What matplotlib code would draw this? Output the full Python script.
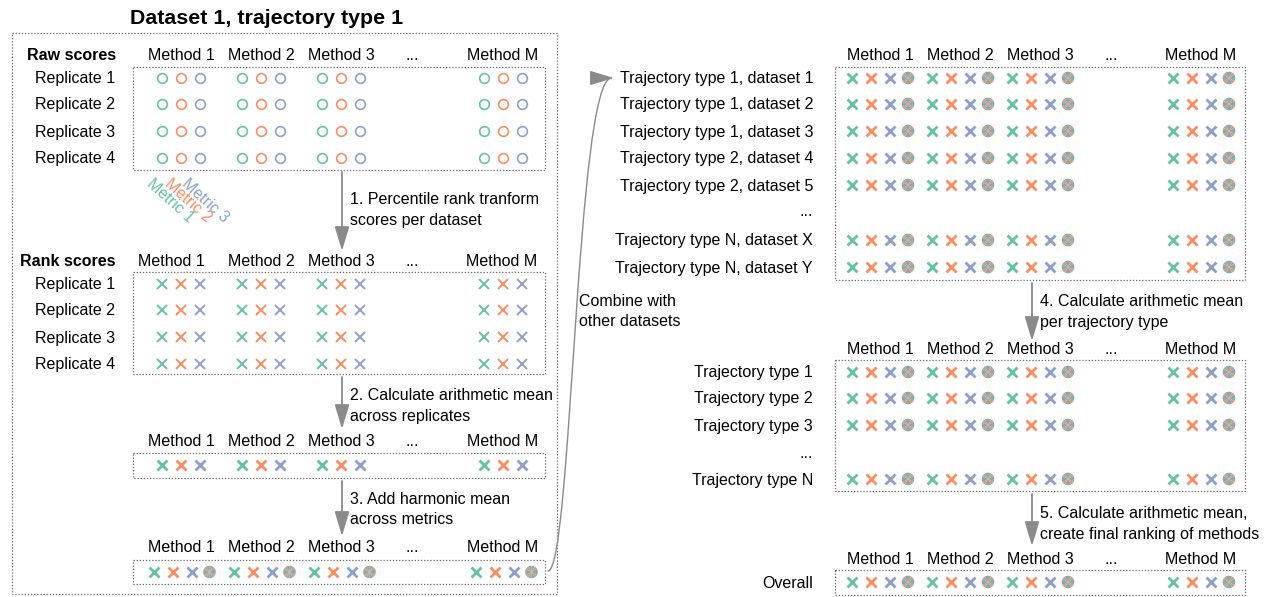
import matplotlib.pyplot as plt
from matplotlib.patches import Rectangle, Wedge, FancyArrowPatch
from matplotlib.path import Path

plt.rcParams['font.family'] = ['Liberation Sans', 'DejaVu Sans']

methods = ['Method 1', 'Method 2', 'Method 3', '...', 'Method M']
metric_names = ['Metric 1', 'Metric 2', 'Metric 3']
metric_colors = ['#66c2a5', '#fc8d62', '#8da0cb']
replicates = ['Replicate 1', 'Replicate 2', 'Replicate 3', 'Replicate 4']
dataset_rows = ['Trajectory type 1, dataset 1', 'Trajectory type 1, dataset 2',
                'Trajectory type 1, dataset 3', 'Trajectory type 2, dataset 4',
                'Trajectory type 2, dataset 5', '...',
                'Trajectory type N, dataset X', 'Trajectory type N, dataset Y']
traj_rows = ['Trajectory type 1', 'Trajectory type 2', 'Trajectory type 3',
             '...', 'Trajectory type N']
steps = [['1. Percentile rank tranform', 'scores per dataset'],
         ['2. Calculate arithmetic mean', 'across replicates'],
         ['3. Add harmonic mean', 'across metrics'],
         ['4. Calculate arithmetic mean', 'per trajectory type'],
         ['5. Calculate arithmetic mean,', 'create final ranking of methods']]

FS = 11.5
LINE = '#8a8a8a'
BOX = '#666666'

fig = plt.figure(figsize=(12.7, 5.97), dpi=100)
ax = fig.add_axes([0, 0, 1, 1])
ax.set_xlim(0, 1270)
ax.set_ylim(597, 0)
ax.axis('off')


def txt(x, y, s, **kw):
    kw.setdefault('fontsize', FS)
    kw.setdefault('va', 'center')
    ax.text(x, y + 1, s, **kw)


def box(x0, y0, x1, y1):
    ax.add_patch(Rectangle((x0, y0), x1 - x0, y1 - y0, fill=False,
                           edgecolor=BOX, lw=0.9, linestyle=(0, (1, 1.5))))


def header(cols, y, title=None, title_x=None):
    for name, cx in zip(methods, cols):
        txt(cx, y, name, ha='center')
    if title:
        txt(title_x, y, title, ha='center', fontweight='bold')


def harmonic(x, y, r=6.3):
    n = 12
    for k in range(n):
        ax.add_patch(Wedge((x, y), r, k * 360 / n, (k + 1) * 360 / n,
                           facecolor=metric_colors[k % 3], edgecolor='none'))


def marks(cols, y, kind):
    for name, cx in zip(methods, cols):
        if name == '...':
            continue
        if kind == 'o':
            for c, dx in zip(metric_colors, (-19, 0, 19)):
                ax.plot(cx + dx, y, 'o', mfc='none', mec=c, ms=7, mew=1.2)
        elif kind == 'x':
            for c, dx in zip(metric_colors, (-19, 0, 19)):
                ax.plot(cx + dx, y, 'x', color=c, ms=7.5, mew=1.4)
        elif kind == 'X':
            for c, dx in zip(metric_colors, (-19, 0, 19)):
                ax.plot(cx + dx, y, 'x', color=c, ms=7, mew=2.0)
        else:
            for c, dx in zip(metric_colors, (-28, -9, 10)):
                ax.plot(cx + dx, y, 'x', color=c, ms=7, mew=2.0)
            harmonic(cx + 28, y)


def row_labels(labels, ys, x):
    for lab, y in zip(labels, ys):
        txt(x, y, lab, ha='right')


def arrow(x, y0, y1, text, ty):
    ax.add_patch(FancyArrowPatch((x, y0), (x, y1),
                                 arrowstyle='-|>,head_length=1.5,head_width=0.45',
                                 mutation_scale=10, color=LINE, lw=1.3,
                                 shrinkA=0, shrinkB=0))
    for i, line in enumerate(text):
        txt(x + 8, ty + 21 * i, line, ha='left')


left_cols = [181, 261, 341, 412, 503]
rank_cols = [171, 261, 341, 412, 502]
right_cols = [880, 960, 1040, 1111, 1201]

# left panel
txt(267, 17, 'Dataset 1, trajectory type 1', fontsize=15.4,
    fontweight='bold', ha='center')
box(12, 33, 557, 594)

rep_ys = [78, 104, 131, 158]
header(left_cols, 55, 'Raw scores', 72)
box(133, 67, 545, 170)
row_labels(replicates, rep_ys, 115)
for y in rep_ys:
    marks(left_cols, y, 'o')
for name, c, dx in zip(metric_names, metric_colors, (-27, -9, 8)):
    ax.text(left_cols[0] + dx, 176, name, fontsize=FS, color=c, rotation=-42,
            rotation_mode='anchor', ha='left', va='top')

arrow(342, 172, 251, steps[0], 199)

rank_ys = [284, 310, 337, 364]
header(rank_cols, 261, 'Rank scores', 68)
box(133, 272, 545, 374)
row_labels(replicates, rank_ys, 115)
for y in rank_ys:
    marks(left_cols, y, 'x')

arrow(342, 377, 429, steps[1], 394)

header(left_cols, 441)
box(133, 453, 545, 478)
marks(left_cols, 465, 'X')

arrow(342, 481, 536, steps[2], 498)

header(left_cols, 547)
box(133, 560, 545, 584)
marks([c + 0.5 for c in left_cols], 572, 'h')

# curved connector
curve = Path([(548, 571), (572, 571), (576, 78), (614, 78)],
             [Path.MOVETO, Path.CURVE4, Path.CURVE4, Path.CURVE4])
ax.add_patch(FancyArrowPatch(path=curve,
                             arrowstyle='-|>,head_length=1.5,head_width=0.45',
                             mutation_scale=10, color=LINE, lw=1.0))
txt(579, 300, 'Combine with', ha='left')
txt(579, 321, 'other datasets', ha='left')

# right panel
ds_ys = [78, 104, 131, 158, 185, 211, 240, 267]
header(right_cols, 55)
box(835, 67, 1245, 280)
row_labels(dataset_rows, ds_ys, 813)
for lab, y in zip(dataset_rows, ds_ys):
    if lab != '...':
        marks(right_cols, y, 'h')

arrow(1032, 283, 341, steps[3], 300)

traj_ys = [372, 398, 425, 452, 479]
header(right_cols, 348)
box(835, 360, 1245, 491)
row_labels(traj_rows, traj_ys, 813)
for lab, y in zip(traj_rows, traj_ys):
    if lab != '...':
        marks(right_cols, y, 'h')

arrow(1032, 494, 546, steps[4], 512)

header(right_cols, 558)
box(835, 570, 1245, 595)
row_labels(['Overall'], [582], 813)
marks(right_cols, 582, 'h')

fig.savefig('out.png', dpi=100)
